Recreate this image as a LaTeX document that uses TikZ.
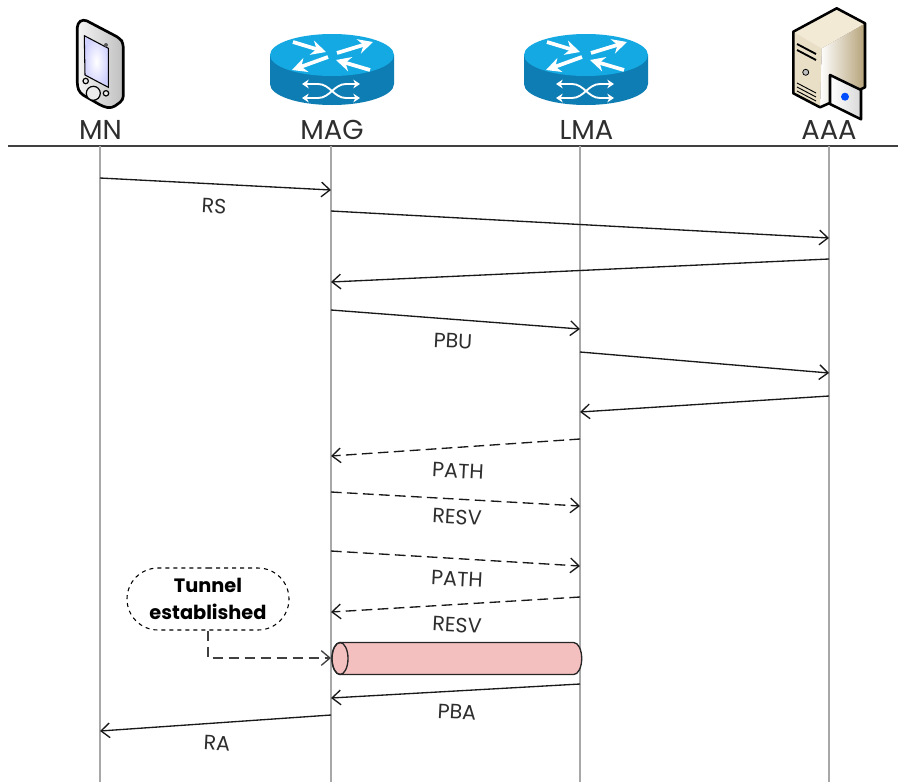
\documentclass[tikz,border=0pt]{standalone}
\usepackage{fontspec}
\setmainfont{Poppins}
\usetikzlibrary{arrows.meta,shapes.misc}

\definecolor{routertop}{HTML}{14A9E2}
\definecolor{routerside}{HTML}{0E7DB3}
\definecolor{tunnelfill}{HTML}{F4BFBF}
\definecolor{lifegrey}{HTML}{A8A8A8}
\definecolor{inkgrey}{HTML}{2E2E2E}
\definecolor{servertop}{HTML}{F3EAD6}
\definecolor{serverfront}{HTML}{E9DFC6}
\definecolor{serverside}{HTML}{B5A278}

\tikzset{
    head/.style={font=\fontsize{20.5pt}{22pt}\selectfont, text=inkgrey, inner sep=0pt},
    msglabel/.style={font=\fontsize{15.5pt}{17pt}\selectfont, text=inkgrey, inner sep=0pt, rotate=-3},
    lifeline/.style={lifegrey, line width=1.1pt},
    msg/.style={-{Straight Barb[length=6.5pt,width=11pt]}, line width=1pt, black!90},
    dashmsg/.style={msg, dash pattern=on 8pt off 4pt},
    wing/.style={-{Stealth[length=11pt,width=11pt]}, white, line width=2.8pt},
    cross/.style={{Stealth[length=5pt,width=6.5pt]}-{Stealth[length=5pt,width=6.5pt]}, white, line width=1.4pt},
    router/.pic={
        \fill [routerside] (-62,0) -- (-62,29) arc [start angle=180, end angle=0, x radius=62, y radius=21] -- (62,0) -- cycle;
        \fill [routertop] (0,0) ellipse [x radius=62, y radius=21];
        % top arrows
        \draw [wing] (-39,-13) -- (-6,-3);
        \draw [wing] (5,-2) -- (41,-13);
        \draw [wing] (-4,2) -- (-40,15);
        \draw [wing] (38,15) -- (4,5);
        % side arrows
        \draw [cross] (-30,29) -- (-14,29) .. controls (-2,29) and (2,43) .. (14,43) -- (28,43);
        \draw [cross] (-30,43) -- (-14,43) .. controls (-2,43) and (2,29) .. (14,29) -- (28,29);
    }
}

\begin{document}
\begin{tikzpicture}[x=0.75pt,y=-0.75pt]
    \useasboundingbox (0,0) rectangle (898,782);

    % Handheld
    \draw [line width=2pt, line join=round, rounded corners=3pt, left color=gray!8, right color=gray!50]
        (77.3,23.3) -- (83.3,19) -- (120,38.3) -- (123.3,43.3) -- (123.3,100) -- (111.7,108.3)
        -- (103.3,106.7) -- (80,93.3) -- (77.3,86.7) -- cycle;
    \draw [line width=0.8pt, inner color=white, outer color=blue!18]
        (84.3,35.7) -- (108.3,48.3) -- (108.3,87.3) -- (85,75) -- cycle;
    \draw [line width=0.9pt, fill=gray!15] (93.3,93.3) circle (7);
    \draw [line width=0.9pt, fill=gray!15] (85.7,81) circle (2.7);
    \draw [line width=0.9pt, fill=gray!15] (106,93.3) circle (2.7);
    \fill [gray!70!black] (106,45) circle (2);

    % Routers
    \pic at (332,55) {router};
    \pic at (586,55) {router};

    % Server
    \fill [left color=white, right color=serverside] (821.7,48.3) -- (865,23.3) -- (865,87.3) -- (820,107.3) -- cycle;
    \fill [servertop] (793.3,31.7) -- (836.7,8.3) -- (865,23.3) -- (821.7,48.3) -- cycle;
    \fill [serverfront] (793.3,31.7) -- (821.7,48.3) -- (820,107.3) -- (793.3,93.3) -- cycle;
    \draw [line width=1.9pt, line join=round]
        (793.3,31.7) -- (836.7,8.3) -- (865,23.3) -- (865,87.3) -- (820,107.3) -- (793.3,93.3) -- cycle;
    \draw [line width=1.4pt] (797,44) -- (816,54);
    \draw [line width=1.4pt] (797,50) -- (816,60);
    \draw [line width=0.6pt, fill=gray!50] (805.7,72.3) circle (3);
    \draw [line width=0.7pt] (797,83) -- (816,93);
    \draw [line width=0.7pt] (797,87) -- (816,97);
    \draw [line width=0.7pt] (797,91) -- (816,101);
    % Card
    \draw [line width=1.9pt, line join=round, left color=white, right color=gray!30]
        (830,75) -- (861,90) -- (861,119.3) -- (830,104) -- cycle;
    \fill [blue!70!cyan] (845,96.7) circle (4);

    % Heads
    \node [head] (MN) at (100.5,130) {MN};
    \node [head] (MAG) at (332,130) {MAG};
    \node [head] (LMA) at (586.5,130) {LMA};
    \node [head] (AAA) at (829,130) {AAA};

    % Header rule
    \coordinate (ruleL) at (8,146);
    \coordinate (ruleR) at (898,146);
    \draw [line width=1.1pt, black!75] (ruleL) -- (ruleR);

    % Lifelines
    \coordinate (mnTop) at (100,146);
    \coordinate (mnEnd) at (100,782);
    \coordinate (magTop) at (331,146);
    \coordinate (magEnd) at (331,782);
    \coordinate (lmaTop) at (580,146);
    \coordinate (lmaEnd) at (580,782);
    \coordinate (aaaTop) at (829,146);
    \coordinate (aaaEnd) at (829,782);
    \draw [lifeline] (mnTop) -- (mnEnd);
    \draw [lifeline] (magTop) -- (magEnd);
    \draw [lifeline] (lmaTop) -- (lmaEnd);
    \draw [lifeline] (aaaTop) -- (aaaEnd);

    % Tunnel
    \draw [fill=tunnelfill, draw=black!85, line width=1pt] (340,642.5) -- (573.7,642.5)
        arc [start angle=-90, end angle=90, x radius=8, y radius=16] -- (340,674.5)
        arc [start angle=90, end angle=270, x radius=8, y radius=16] -- cycle;
    \draw [draw=black!85, line width=1pt] (340,658.5) ellipse [x radius=8, y radius=16];

    % Solid messages
    \coordinate (m1a) at (100,178);   \coordinate (m1b) at (331,190);
    \coordinate (m2a) at (331,211);   \coordinate (m2b) at (829,238);
    \coordinate (m3a) at (829,259);   \coordinate (m3b) at (331,282);
    \coordinate (m4a) at (331,310);   \coordinate (m4b) at (580,329);
    \coordinate (m5a) at (580,352);   \coordinate (m5b) at (829,373);
    \coordinate (m6a) at (829,396);   \coordinate (m6b) at (580,412);
    \coordinate (m7a) at (580,684);   \coordinate (m7b) at (331,698);
    \coordinate (m8a) at (331,715);   \coordinate (m8b) at (100,731);
    \draw [msg] (m1a) -- (m1b);
    \draw [msg] (m2a) -- (m2b);
    \draw [msg] (m3a) -- (m3b);
    \draw [msg] (m4a) -- (m4b);
    \draw [msg] (m5a) -- (m5b);
    \draw [msg] (m6a) -- (m6b);
    \draw [msg] (m7a) -- (m7b);
    \draw [msg] (m8a) -- (m8b);

    % Dashed messages
    \coordinate (d1a) at (580,439);   \coordinate (d1b) at (331,456);
    \coordinate (d2a) at (331,492);   \coordinate (d2b) at (580,506);
    \coordinate (d3a) at (331,551);   \coordinate (d3b) at (580,566);
    \coordinate (d4a) at (580,597);   \coordinate (d4b) at (331,612);
    \draw [dashmsg] (d1a) -- (d1b);
    \draw [dashmsg] (d2a) -- (d2b);
    \draw [dashmsg] (d3a) -- (d3b);
    \draw [dashmsg] (d4a) -- (d4b);

    % Message labels
    \node [msglabel] (rs) at (214,206) {RS};
    \node [msglabel] (pbu) at (453,341) {PBU};
    \node [msglabel] (path1) at (458,471) {PATH};
    \node [msglabel] (resv1) at (457,517) {RESV};
    \node [msglabel] (path2) at (457,579) {PATH};
    \node [msglabel] (resv2) at (457,625) {RESV};
    \node [msglabel] (pba) at (457,712) {PBA};
    \node [msglabel] (ra) at (217,743) {RA};

    % Note
    \node [draw, rounded rectangle, dashed, line width=0.8pt, minimum width=121.5pt, minimum height=46.5pt,
        inner sep=0pt, align=center, font=\fontsize{14.5pt}{20pt}\selectfont\bfseries] (note) at (208,599)
        {Tunnel\\established};
    \coordinate (tunnelIn) at (331,658);
    \draw [dashmsg, black!75] (note.south) |- (tunnelIn);
\end{tikzpicture}
\end{document}
